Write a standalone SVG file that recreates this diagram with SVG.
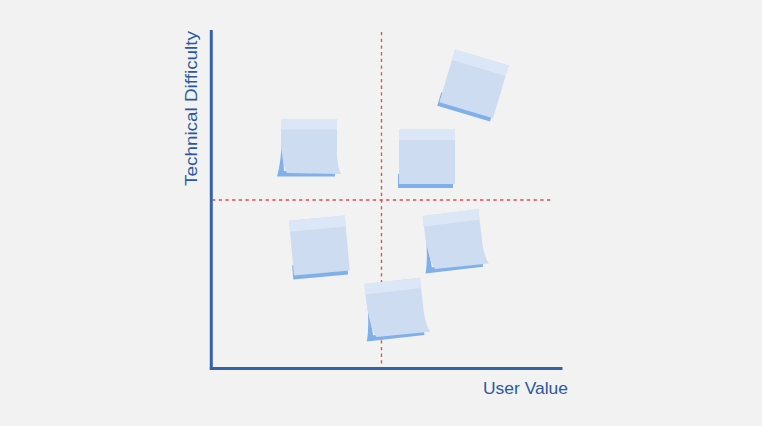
<svg xmlns="http://www.w3.org/2000/svg" xmlns:xlink="http://www.w3.org/1999/xlink" width="762" height="426" viewBox="0 0 762 426">
  <style>
    .axis { stroke: #3563ab; stroke-width: 3; fill: none; }
    .quad { stroke: #e6484c; stroke-width: 1.3; stroke-dasharray: 3.3 3.4; fill: none; }
    .label { font-family: "Liberation Sans", "DejaVu Sans", sans-serif; font-size: 17px; fill: #2b589e; }
    .shadow { fill: #7fb0ea; }
    .paper { fill: #cddcf1; }
    .band { fill: #dbe6f6; }
  </style>
  <defs>
    <g id="flatNote">
      <rect class="shadow" x="-1" y="45" width="55" height="14"/>
      <rect class="paper" x="0" y="0" width="56" height="55"/>
      <rect class="band" x="0" y="0" width="56" height="11"/>
    </g>
    <g id="curlNote">
      <path class="shadow" d="M1,20 Q0,44 -4,57.5 L54,57.5 L54,52 L3,52 Z"/>
      <path class="paper" d="M0,0 H56 V36 Q56.5,48 60,55 L6,54 Q1,46 0,20 Z"/>
      <rect class="band" x="0" y="0" width="56" height="10.5"/>
    </g>
  </defs>
  <rect width="762" height="426" fill="#f2f2f2"/>

  <g id="connectors">
    <line class="quad" x1="381.5" y1="32" x2="381.5" y2="367"/>
    <line class="quad" x1="212" y1="200" x2="551" y2="200"/>
    <line class="axis" x1="211.3" y1="30" x2="211.3" y2="369.5"/>
    <line class="axis" x1="209.8" y1="368.5" x2="562.5" y2="368.5"/>
  </g>

  <g id="note1"><use xlink:href="#curlNote" href="#curlNote" transform="translate(281,119)"/></g>
  <g id="note2"><use xlink:href="#flatNote" href="#flatNote" transform="translate(399,129)"/></g>
  <g id="note3"><use xlink:href="#flatNote" href="#flatNote" transform="translate(455,49.5) rotate(16.5)"/></g>
  <g id="note4"><use xlink:href="#flatNote" href="#flatNote" transform="translate(289,220.7) rotate(-5.2)"/></g>
  <g id="note5"><use xlink:href="#curlNote" href="#curlNote" transform="translate(422.7,216) rotate(-6.8)"/></g>
  <g id="note6"><use xlink:href="#curlNote" href="#curlNote" transform="translate(364.3,284) rotate(-6.5)"/></g>

  <g id="label-y">
    <text class="label" transform="translate(197,186) rotate(-90)" textLength="155" lengthAdjust="spacingAndGlyphs">Technical Difficulty</text>
  </g>
  <g id="label-x">
    <text class="label" x="483" y="394" textLength="85" lengthAdjust="spacingAndGlyphs">User Value</text>
  </g>
</svg>
